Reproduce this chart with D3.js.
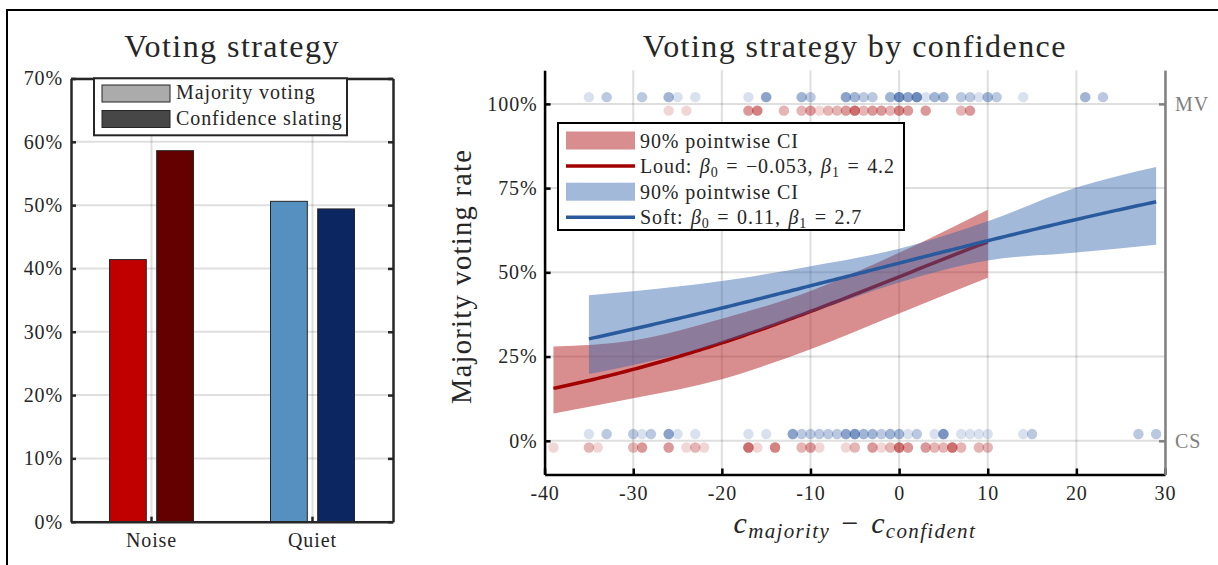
<!DOCTYPE html>
<html>
<head>
<meta charset="utf-8">
<script src="https://cdn.jsdelivr.net/npm/d3@7"></script>
<style>
  body { margin: 0; background: #fff; }
  svg text { font-family: "Liberation Serif", "Times New Roman", serif; letter-spacing: 0.045em; fill: #262626; }
</style>
</head>
<body>
<svg id="fig" width="1218" height="565"></svg>
<script>
// ---- Bar panel: share of each strategy per condition ----
const groups = ["Noise", "Quiet"];
const strategies = ["Majority voting", "Confidence slating"];
const noiseRates = [0.414, 0.586];
const quietRates = [0.506, 0.494];
const barTicks = [0, 0.1, 0.2, 0.3, 0.4, 0.5, 0.6, 0.7];

// ---- Logistic panel: majority-voting rate vs confidence gap ----
const xTicks = [-40, -30, -20, -10, 0, 10, 20, 30];
const yTicks = [0, 0.25, 0.5, 0.75, 1];
const loudBeta = [-0.053, 4.2];
const softBeta = [0.11, 2.7];

// 90% pointwise confidence bands
const loudCiX    = [-39, -30, -20, -10, 0, 10];
const loudCiLow  = [0.081, 0.126, 0.183, 0.272, 0.378, 0.484];
const loudCiHigh = [0.280, 0.298, 0.362, 0.445, 0.558, 0.686];
const softCiX    = [-35, -30, -20, -10, 0, 10, 20, 29];
const softCiLow  = [0.198, 0.225, 0.291, 0.380, 0.470, 0.535, 0.559, 0.582];
const softCiHigh = [0.432, 0.444, 0.474, 0.518, 0.570, 0.652, 0.752, 0.813];

// Individual decisions (x value and number of observations at that x)
const loudMvX = [-26, -24, -17, -16, -13, -11, -10, -9, -8, -7, -6, -5, -4, -3, -2, -1, 0, 1, 3, 7, 8];
const loudMvN = [1, 1, 3, 4, 2, 2, 3, 1, 2, 2, 3, 5, 2, 3, 3, 2, 4, 3, 3, 2, 3];
const loudCsX = [-39, -35, -34, -30, -29, -26, -24, -23, -22, -17, -16, -14, -11, -10, -9, -6, -5, -3, -2, -1, 0, 1, 3, 4, 5, 6, 7, 9, 10];
const loudCsN = [1, 2, 1, 2, 3, 3, 1, 2, 1, 5, 1, 4, 2, 3, 1, 1, 2, 3, 1, 2, 5, 3, 3, 2, 2, 5, 2, 2, 2];
const softMvX = [-35, -33, -29, -26, -25, -23, -17, -15, -11, -10, -6, -5, -4, -3, -1, 0, 1, 2, 3, 4, 5, 7, 8, 9, 10, 11, 14, 21, 23];
const softMvN = [1, 2, 2, 3, 1, 1, 1, 4, 3, 2, 4, 3, 2, 2, 3, 6, 4, 6, 1, 3, 3, 2, 2, 1, 3, 2, 1, 3, 2];
const softCsX = [-35, -33, -30, -29, -28, -26, -25, -23, -17, -15, -12, -11, -10, -9, -8, -7, -6, -5, -4, -3, -2, -1, 0, 1, 2, 4, 5, 7, 8, 9, 10, 14, 15, 27, 29];
const softCsN = [1, 2, 2, 1, 2, 4, 1, 1, 1, 1, 4, 2, 2, 2, 2, 2, 4, 5, 3, 3, 2, 3, 3, 1, 2, 1, 5, 1, 1, 1, 1, 1, 2, 2, 2];

const svg = d3.select("#fig");
const gridColor = "#262626", axisColor = "#262626";

// outer frame
svg.append("rect").attr("x", 7).attr("y", 10).attr("width", 1240).attr("height", 600)
  .attr("fill", "none").attr("stroke", "#000").attr("stroke-width", 2);

// =================== Bar panel ===================
const L = { left: 71, right: 393, top: 78.5, bottom: 521.7 };
const x0 = d3.scaleBand().domain(groups).range([L.left, L.right]);
const x1 = d3.scaleBand().domain(strategies)
  .range([x0.bandwidth() / 2 - 42, x0.bandwidth() / 2 + 42]).paddingInner(0.22);
const yL = d3.scaleLinear().domain([0, 0.7]).range([L.bottom, L.top]);
const barColors = [["#c00000", "#650000"], ["#5590c1", "#0b2660"]];

const gL = svg.append("g");
// grid
gL.append("g").selectAll("line").data(barTicks).join("line")
  .attr("x1", L.left).attr("x2", L.right).attr("y1", d => yL(d)).attr("y2", d => yL(d))
  .attr("stroke", gridColor).attr("stroke-opacity", 0.15).attr("stroke-width", 2);
gL.append("g").selectAll("line").data(groups).join("line")
  .attr("x1", d => x0(d) + x0.bandwidth() / 2).attr("x2", d => x0(d) + x0.bandwidth() / 2)
  .attr("y1", L.top).attr("y2", L.bottom)
  .attr("stroke", gridColor).attr("stroke-opacity", 0.15).attr("stroke-width", 2);

// bars
const barRows = groups.map((g, i) => ({ group: g, values: [noiseRates, quietRates][i], colors: barColors[i] }));
gL.append("g").selectAll("g").data(barRows).join("g")
  .attr("transform", d => `translate(${x0(d.group)},0)`)
  .selectAll("rect").data(d => d.values.map((v, j) => ({ key: strategies[j], v, c: d.colors[j] })))
  .join("rect")
  .attr("x", d => x1(d.key)).attr("width", x1.bandwidth())
  .attr("y", d => yL(d.v)).attr("height", d => yL(0) - yL(d.v))
  .attr("fill", d => d.c).attr("stroke", axisColor).attr("stroke-width", 1);

// axes
function styleAxis(g, color, size) {
  g.attr("font-size", size);
  g.select(".domain").attr("stroke", color).attr("stroke-width", 2.5);
  g.selectAll(".tick line").attr("stroke", color).attr("stroke-width", 2.5);
}
gL.append("g").attr("transform", `translate(${L.left},0)`)
  .call(d3.axisLeft(yL).tickValues(barTicks).tickFormat(d3.format(".0%")).tickSize(-5).tickSizeOuter(0).tickPadding(8))
  .call(g => styleAxis(g, axisColor, 20));
gL.append("g").attr("transform", `translate(${L.right},0)`)
  .call(d3.axisRight(yL).tickValues(barTicks).tickFormat("").tickSize(-5).tickSizeOuter(0))
  .call(g => styleAxis(g, axisColor, 20));
gL.append("g").attr("transform", `translate(0,${L.bottom})`)
  .call(d3.axisBottom(x0).tickSize(-5).tickSizeOuter(0).tickPadding(11))
  .call(g => styleAxis(g, axisColor, 20));
gL.append("g").attr("transform", `translate(0,${L.top})`)
  .call(d3.axisTop(x0).tickFormat("").tickSize(-5).tickSizeOuter(0))
  .call(g => styleAxis(g, axisColor, 20));

// legend
const legL = gL.append("g");
legL.append("rect").attr("x", 94).attr("y", 78.3).attr("width", 253).attr("height", 57)
  .attr("fill", "#fff").attr("stroke", axisColor).attr("stroke-width", 2);
const legendGrays = ["#ababab", "#474747"];
strategies.forEach((s, i) => {
  const yy = 85 + i * 25.5;
  legL.append("rect").attr("x", 102).attr("y", yy).attr("width", 68).attr("height", 17)
    .attr("fill", legendGrays[i]).attr("stroke", axisColor).attr("stroke-width", 1);
  legL.append("text").attr("x", 176).attr("y", yy + 14).attr("font-size", 20).text(s);
});

gL.append("text").attr("x", (L.left + L.right) / 2).attr("y", 57)
  .attr("text-anchor", "middle").attr("font-size", 32).text("Voting strategy");

// =================== Logistic panel ===================
const R = { left: 544.6, right: 1165, top: 70.2, bottom: 474.5 };
const xR = d3.scaleLinear().domain([-40, 30]).range([R.left, R.right]);
const yR = d3.scaleLinear().domain([-0.1, 1.1]).range([R.bottom, R.top]);
const loudColor = "#a30000", softColor = "#2a5a9e";
const loudFill = "#b21e1e", softFill = "#3264aa";

const gR = svg.append("g");
// grid
gR.append("g").selectAll("line").data(xTicks).join("line")
  .attr("x1", d => xR(d)).attr("x2", d => xR(d)).attr("y1", R.top).attr("y2", R.bottom)
  .attr("stroke", gridColor).attr("stroke-opacity", 0.15).attr("stroke-width", 2);
gR.append("g").selectAll("line").data(yTicks).join("line")
  .attr("x1", R.left).attr("x2", R.right).attr("y1", d => yR(d)).attr("y2", d => yR(d))
  .attr("stroke", gridColor).attr("stroke-opacity", 0.15).attr("stroke-width", 2);

// individual decisions
const expand = (xs, ns, outcome) => xs.flatMap((x, i) => d3.range(ns[i]).map(() => ({ x, outcome })));
const dotOffset = 0.02;
function drawDots(obs, color, offset) {
  gR.append("g").selectAll("circle").data(obs).join("circle")
    .attr("cx", d => xR(d.x)).attr("cy", d => yR(d.outcome + offset)).attr("r", 5.2)
    .attr("fill", color).attr("fill-opacity", 0.18);
}
drawDots(expand(loudMvX, loudMvN, 1).concat(expand(loudCsX, loudCsN, 0)), loudFill, -dotOffset);
drawDots(expand(softMvX, softMvN, 1).concat(expand(softCsX, softCsN, 0)), softColor, dotOffset);

// fitted logistic curves from the reported coefficients
const logistic = (beta, x) => 1 / (1 + Math.exp(-(beta[0] + beta[1] * x / 100)));
function fitCurve(beta, xs) {
  const [a, b] = d3.extent(xs);
  return d3.range(a, b + 0.001, 0.5).map(x => ({ x, p: logistic(beta, x) }));
}
const band = d3.area().x(d => xR(d.x)).y0(d => yR(d.lo)).y1(d => yR(d.hi)).curve(d3.curveMonotoneX);
const line = d3.line().x(d => xR(d.x)).y(d => yR(d.p));

const loudBand = loudCiX.map((x, i) => ({ x, lo: loudCiLow[i], hi: loudCiHigh[i] }));
const softBand = softCiX.map((x, i) => ({ x, lo: softCiLow[i], hi: softCiHigh[i] }));
const loudAll = loudMvX.concat(loudCsX), softAll = softMvX.concat(softCsX);

gR.append("path").attr("d", band(loudBand)).attr("fill", loudFill).attr("fill-opacity", 0.5);
gR.append("path").attr("d", line(fitCurve(loudBeta, loudAll))).attr("fill", "none")
  .attr("stroke", loudColor).attr("stroke-width", 3.5);
gR.append("path").attr("d", band(softBand)).attr("fill", softFill).attr("fill-opacity", 0.45);
gR.append("path").attr("d", line(fitCurve(softBeta, softAll))).attr("fill", "none")
  .attr("stroke", softColor).attr("stroke-width", 3.5);

// axes
gR.append("g").attr("transform", `translate(${R.left},0)`)
  .call(d3.axisLeft(yR).tickValues(yTicks).tickFormat(d3.format(".0%")).tickSize(-6).tickSizeOuter(0).tickPadding(7))
  .call(g => styleAxis(g, "#000", 20));
gR.append("g").attr("transform", `translate(0,${R.bottom})`)
  .call(d3.axisBottom(xR).tickValues(xTicks).tickFormat(d => String(d)).tickSize(-6).tickSizeOuter(0).tickPadding(11))
  .call(g => styleAxis(g, "#000", 20));
gR.append("g").attr("transform", `translate(${R.right},0)`)
  .call(d3.axisRight(yR).tickValues([0, 1]).tickFormat(d => d === 1 ? "MV" : "CS").tickSize(-6).tickSizeOuter(0).tickPadding(10))
  .call(g => styleAxis(g, "#808080", 20))
  .call(g => g.selectAll("text").style("fill", "#808080"));

// titles
gR.append("text").attr("x", (R.left + R.right) / 2).attr("y", 57)
  .attr("text-anchor", "middle").attr("font-size", 32).text("Voting strategy by confidence");
gR.append("text").attr("transform", `translate(471,${(R.top + R.bottom) / 2 + 4}) rotate(-90)`)
  .attr("text-anchor", "middle").attr("font-size", 28.5).text("Majority voting rate");
const xt = gR.append("text").attr("x", (R.left + R.right) / 2).attr("y", 533)
  .attr("text-anchor", "middle").attr("font-size", 30).attr("font-style", "italic");
xt.append("tspan").text("c");
xt.append("tspan").attr("font-size", 21).attr("dy", 5).text("majority");
xt.append("tspan").attr("font-style", "normal").attr("dy", -5).text("\u2004\u2212\u2004");
xt.append("tspan").text("c");
xt.append("tspan").attr("font-size", 21).attr("dy", 5).text("confident");

// legend
const legR = gR.append("g");
legR.append("rect").attr("x", 558).attr("y", 123).attr("width", 346).attr("height", 107)
  .attr("fill", "#fff").attr("stroke", "#000").attr("stroke-width", 2);
const eq = "\u2004=\u2004";
const legRows = [
  { kind: "band", color: loudFill, op: 0.5, label: ["90% pointwise CI"] },
  { kind: "line", color: loudColor, label: ["Loud:\u2004", "0", eq + "\u22120.053,\u2004", "1", eq + "4.2"] },
  { kind: "band", color: softFill, op: 0.45, label: ["90% pointwise CI"] },
  { kind: "line", color: softColor, label: ["Soft:\u2004", "0", eq + "0.11,\u2004", "1", eq + "2.7"] }
];
legRows.forEach((r, i) => {
  const cy = 140.5 + i * 25.6;
  if (r.kind === "band") {
    legR.append("rect").attr("x", 566).attr("y", cy - 9).attr("width", 69).attr("height", 18)
      .attr("fill", r.color).attr("fill-opacity", r.op);
  } else {
    legR.append("line").attr("x1", 566).attr("x2", 635).attr("y1", cy).attr("y2", cy)
      .attr("stroke", r.color).attr("stroke-width", 3.5);
  }
  const t = legR.append("text").attr("x", 640).attr("y", cy + 7).attr("font-size", 20);
  if (r.label.length === 1) { t.text(r.label[0]); return; }
  t.append("tspan").text(r.label[0]);
  t.append("tspan").attr("font-style", "italic").text("\u03B2");
  t.append("tspan").attr("font-size", 14).attr("dy", 4).text(r.label[1]);
  t.append("tspan").attr("dy", -4).text(r.label[2]);
  t.append("tspan").attr("font-style", "italic").text("\u03B2");
  t.append("tspan").attr("font-size", 14).attr("dy", 4).text(r.label[3]);
  t.append("tspan").attr("dy", -4).text(r.label[4]);
});
</script>
</body>
</html>
